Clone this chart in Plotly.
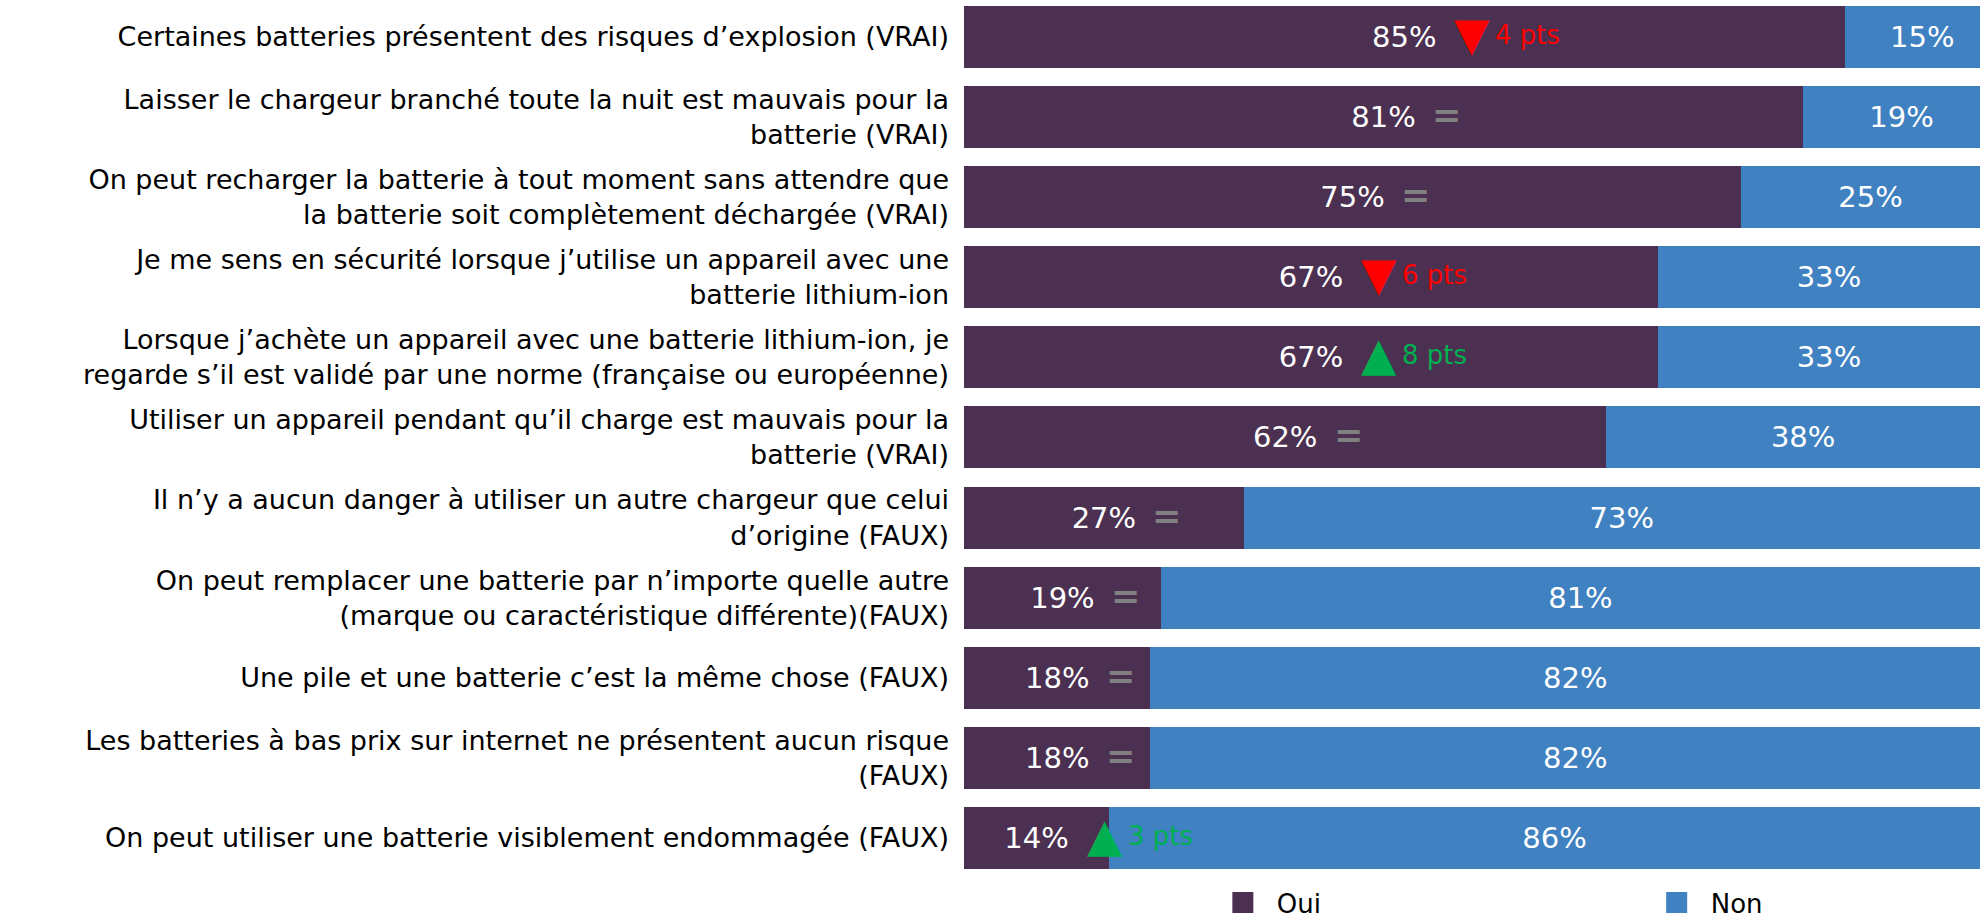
import plotly.graph_objects as go

# Data (top to bottom)
statements = [
    "Certaines batteries présentent des risques d’explosion (VRAI)",
    "Laisser le chargeur branché toute la nuit est mauvais pour la<br>batterie (VRAI)",
    "On peut recharger la batterie à tout moment sans attendre que<br>la batterie soit complètement déchargée (VRAI)",
    "Je me sens en sécurité lorsque j’utilise un appareil avec une<br>batterie lithium-ion",
    "Lorsque j’achète un appareil avec une batterie lithium-ion, je<br>regarde s’il est validé par une norme (française ou européenne)",
    "Utiliser un appareil pendant qu’il charge est mauvais pour la<br>batterie (VRAI)",
    "Il n’y a aucun danger à utiliser un autre chargeur que celui<br>d’origine (FAUX)",
    "On peut remplacer une batterie par n’importe quelle autre<br>(marque ou caractéristique différente)(FAUX)",
    "Une pile et une batterie c’est la même chose (FAUX)",
    "Les batteries à bas prix sur internet ne présentent aucun risque<br>(FAUX)",
    "On peut utiliser une batterie visiblement endommagée (FAUX)",
]
oui = [85, 81, 75, 67, 67, 62, 27, 19, 18, 18, 14]
non = [15, 19, 25, 33, 33, 38, 73, 81, 82, 82, 86]
evolution = [-4, 0, 0, -6, 8, 0, 0, 0, 0, 0, 3]  # points vs previous wave

COLOR_OUI = "#4b3051"
COLOR_NON = "#3f81c1"
FONT = "DejaVu Sans, sans-serif"

cats = list(range(len(statements)))

fig = go.Figure()
for name, vals, col in [("Oui", oui, COLOR_OUI), ("Non", non, COLOR_NON)]:
    fig.add_trace(go.Bar(
        y=cats, x=vals, orientation="h", name=name, showlegend=False,
        marker=dict(color=col, line=dict(width=0)),
        text=[f"{v}%" for v in vals], textposition="inside",
        insidetextanchor="middle", textangle=0,
        textfont=dict(color="white", size=29, family=FONT),
        hoverinfo="skip",
    ))

# legend entries (bigger square swatches than the bar legend symbol)
fig.add_trace(go.Scatter(x=[None], y=[None], mode="markers", name="Oui",
                         marker=dict(symbol="square", size=16, color=COLOR_OUI,
                                     line=dict(color=COLOR_OUI, width=5)),
                         legend="legend"))
fig.add_trace(go.Scatter(x=[None], y=[None], mode="markers", name="Non",
                         marker=dict(symbol="square", size=16, color=COLOR_NON,
                                     line=dict(color=COLOR_NON, width=5)),
                         legend="legend2"))

# evolution markers next to the "Oui" labels
for i, (v, d) in enumerate(zip(oui, evolution)):
    if d == 0:
        fig.add_annotation(x=v / 2, y=i, text="<b>=</b>", showarrow=False,
                           xshift=63, yshift=2,
                           font=dict(color="#808080", size=35, family="DejaVu Sans"))
    else:
        col = "#ff0000" if d < 0 else "#00b050"
        glyph = "▼" if d < 0 else "▲"
        fig.add_annotation(x=v / 2, y=i, text=glyph, showarrow=False,
                           xshift=68, yshift=3,
                           font=dict(color=col, size=46, family="DejaVu Sans"))
        fig.add_annotation(x=v / 2, y=i, text=f"{abs(d)} pts", showarrow=False,
                           xanchor="left", xshift=89, yshift=2,
                           font=dict(color=col, size=26, family=FONT))

leg_common = dict(orientation="h", yanchor="middle", y=-0.028, xanchor="left",
                  itemwidth=58, font=dict(size=26, family=FONT, color="black"),
                  bgcolor="rgba(0,0,0,0)")
fig.update_layout(
    width=1980, height=922,
    barmode="stack", bargap=0.226,
    plot_bgcolor="white", paper_bgcolor="white",
    margin=dict(l=964, r=0, t=0, b=44, autoexpand=False),
    font=dict(family=FONT, color="black"),
    legend=dict(x=0.241, **leg_common),
    legend2=dict(x=0.668, **leg_common),
    xaxis=dict(range=[0, 98.07], visible=False, fixedrange=True),
    yaxis=dict(tickmode="array", tickvals=cats, ticktext=statements,
               range=[10.5, -0.46], showgrid=False, zeroline=False,
               showline=False, ticks="", ticklabelstandoff=14,
               tickfont=dict(size=27, family=FONT, color="black")),
)

fig.write_html("out.html", config={"displayModeBar": False},
               post_script="document.body.style.margin='0';document.body.style.overflow='hidden';")
